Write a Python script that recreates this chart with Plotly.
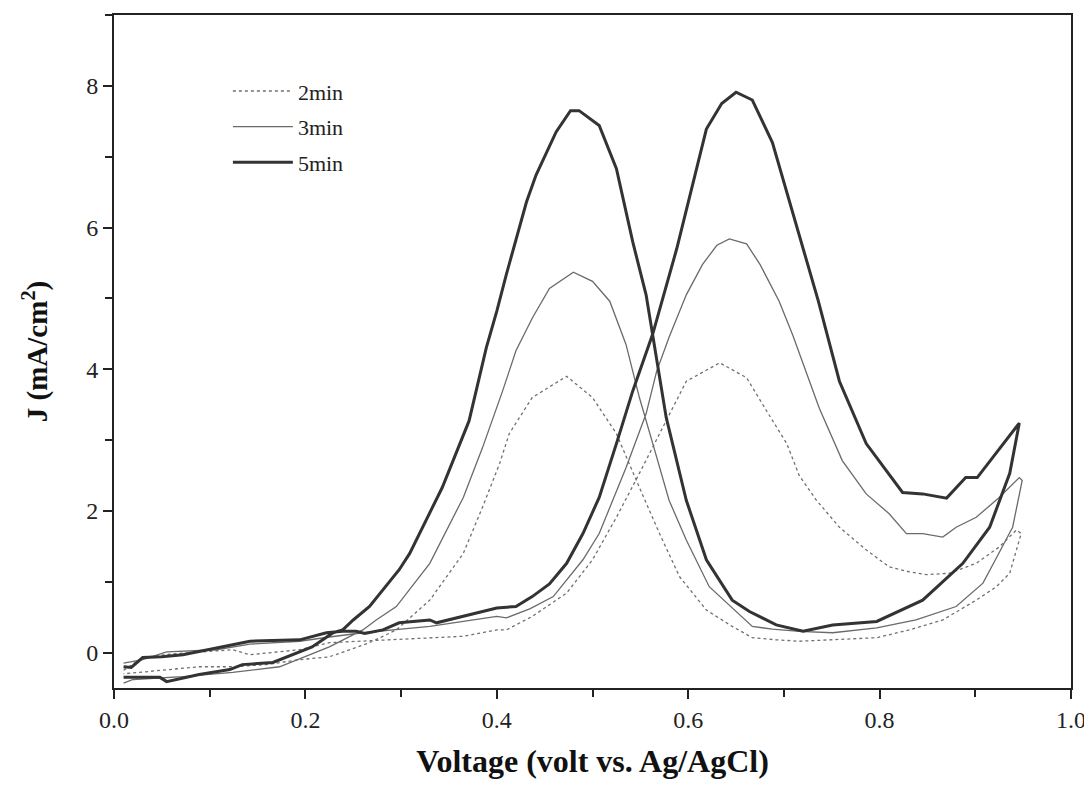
import plotly.graph_objects as go

# 5 min: forward scan then reverse scan (volt, mA/cm2)
v_5min = [0.01, 0.018, 0.03, 0.05, 0.072, 0.107, 0.142, 0.194, 0.222, 0.239, 0.253, 0.262, 0.281, 0.298,
          0.33, 0.337, 0.365, 0.4, 0.42, 0.437, 0.455, 0.473, 0.49, 0.507, 0.525, 0.542, 0.563, 0.588,
          0.619, 0.635, 0.65, 0.667, 0.688, 0.709, 0.736, 0.758, 0.786, 0.824, 0.845, 0.87, 0.89, 0.902,
          0.946,
          0.936, 0.915, 0.887, 0.845, 0.797, 0.751, 0.72, 0.692, 0.664, 0.646, 0.619, 0.598, 0.577, 0.563,
          0.556, 0.542, 0.525, 0.507, 0.486, 0.477, 0.462, 0.441, 0.431, 0.41, 0.4, 0.389, 0.371, 0.343,
          0.309, 0.298, 0.267, 0.25, 0.239, 0.229, 0.207, 0.166, 0.134, 0.121, 0.089, 0.055, 0.048, 0.023,
          0.01]
j_5min = [-0.2, -0.21, -0.07, -0.06, -0.03, 0.07, 0.16, 0.18, 0.28, 0.3, 0.3, 0.27, 0.32, 0.42,
          0.46, 0.42, 0.51, 0.63, 0.65, 0.79, 0.97, 1.26, 1.68, 2.19, 2.95, 3.69, 4.5, 5.7,
          7.39, 7.75, 7.91, 7.8, 7.2, 6.22, 4.96, 3.83, 2.95, 2.26, 2.24, 2.18, 2.47, 2.47,
          3.24,
          2.53, 1.77, 1.26, 0.74, 0.44, 0.39, 0.3, 0.39, 0.58, 0.74, 1.31, 2.15, 3.32, 4.49,
          5.05, 5.8, 6.83, 7.44, 7.65, 7.65, 7.35, 6.74, 6.36, 5.34, 4.82, 4.3, 3.27, 2.33,
          1.4, 1.17, 0.65, 0.46, 0.32, 0.28, 0.08, -0.14, -0.17, -0.24, -0.31, -0.41, -0.35, -0.35,
          -0.35]

v_3min = [0.01, 0.03, 0.055, 0.107, 0.142, 0.194, 0.225, 0.26, 0.3, 0.33, 0.365, 0.4, 0.41, 0.435,
          0.459, 0.49, 0.507, 0.535, 0.556, 0.567, 0.58, 0.598, 0.615, 0.63, 0.643, 0.661, 0.675, 0.695,
          0.709, 0.722, 0.737, 0.761, 0.786, 0.81, 0.828, 0.845, 0.866, 0.88, 0.901, 0.925, 0.946, 0.949,
          0.939, 0.921, 0.908, 0.88, 0.838, 0.797, 0.751, 0.716, 0.688, 0.667, 0.622, 0.598, 0.58, 0.563,
          0.549, 0.535, 0.518, 0.5, 0.48, 0.455, 0.437, 0.42, 0.406, 0.385, 0.365, 0.33, 0.295, 0.274,
          0.26, 0.225, 0.173, 0.124, 0.072, 0.02, 0.01]
j_3min = [-0.15, -0.1, 0.01, 0.04, 0.12, 0.16, 0.22, 0.28, 0.33, 0.37, 0.44, 0.51, 0.49, 0.62,
          0.79, 1.31, 1.68, 2.61, 3.37, 3.97, 4.45, 5.05, 5.48, 5.75, 5.84, 5.77, 5.48, 4.96,
          4.49, 4.02, 3.45, 2.71, 2.24, 1.96, 1.68, 1.68, 1.63, 1.77, 1.91, 2.19, 2.47, 2.43,
          1.77, 1.31, 0.98, 0.65, 0.46, 0.35, 0.28, 0.3, 0.33, 0.37, 0.93, 1.59, 2.15, 2.95,
          3.6, 4.35, 4.96, 5.24, 5.37, 5.14, 4.72, 4.26, 3.69, 2.89, 2.19, 1.26, 0.65, 0.46,
          0.32, 0.08, -0.2, -0.28, -0.34, -0.38, -0.43]

v_2min = [0.01, 0.03, 0.06, 0.089, 0.124, 0.142, 0.166, 0.194, 0.225, 0.295, 0.365, 0.4, 0.41, 0.437,
          0.473, 0.5, 0.525, 0.549, 0.57, 0.598, 0.633, 0.661, 0.682, 0.703, 0.716, 0.734, 0.758, 0.786,
          0.81, 0.831, 0.849, 0.873, 0.901, 0.925, 0.943, 0.948,
          0.946, 0.936, 0.922, 0.901, 0.866, 0.831, 0.797, 0.751, 0.716, 0.692, 0.667, 0.646, 0.619,
          0.591, 0.57, 0.549, 0.525, 0.5, 0.473, 0.437, 0.413, 0.403, 0.385, 0.365, 0.33, 0.295, 0.267,
          0.225, 0.194, 0.159, 0.124, 0.089, 0.055, 0.02, 0.01]
j_2min = [-0.25, -0.07, -0.02, 0.01, 0.04, -0.03, 0.0, 0.04, 0.14, 0.18, 0.23, 0.32, 0.32, 0.51,
          0.84, 1.31, 1.91, 2.53, 3.09, 3.83, 4.09, 3.88, 3.41, 2.95, 2.5, 2.15, 1.77, 1.45,
          1.21, 1.14, 1.1, 1.12, 1.26, 1.49, 1.73, 1.68,
          1.59, 1.12, 0.93, 0.74, 0.46, 0.32, 0.21, 0.18, 0.16, 0.18, 0.21, 0.37, 0.6,
          1.07, 1.68, 2.33, 3.09, 3.6, 3.9, 3.6, 3.09, 2.67, 2.05, 1.4, 0.74, 0.32, 0.14,
          -0.06, -0.1, -0.17, -0.2, -0.2, -0.24, -0.28, -0.3]

series_names = ["2min", "3min", "5min"]
x_ticks = [0.0, 0.2, 0.4, 0.6, 0.8, 1.0]
x_ticklabels = ["0.0", "0.2", "0.4", "0.6", "0.8", "1.0"]

FONT = "Liberation Serif, Times New Roman, serif"

fig = go.Figure()
fig.add_trace(go.Scatter(x=v_2min, y=j_2min, mode="lines", name=series_names[0], legendgroup="a",
                         line=dict(color="#707070", width=1.3, dash="3px,3px")))
fig.add_trace(go.Scatter(x=v_3min, y=j_3min, mode="lines", name=series_names[1], legendgroup="b",
                         line=dict(color="#6a6a6a", width=1.3)))
fig.add_trace(go.Scatter(x=v_5min, y=j_5min, mode="lines", name=series_names[2], legendgroup="c",
                         line=dict(color="#333333", width=3)))

axis_common = dict(showline=True, linecolor="#222", linewidth=2, mirror=True,
                   ticks="outside", tickcolor="#222", tickwidth=2, ticklen=9,
                   showgrid=False, zeroline=False,
                   tickfont=dict(family=FONT, size=24, color="#222"))

fig.update_layout(
    width=1084, height=773,
    plot_bgcolor="white", paper_bgcolor="white",
    margin=dict(l=106, r=21, t=5, b=93),
    showlegend=True,
    legend=dict(x=0.119, y=0.918, xanchor="left", yanchor="top",
                font=dict(family=FONT, size=22, color="#222"),
                bgcolor="rgba(0,0,0,0)", tracegroupgap=4, itemwidth=60),
    xaxis=dict(range=[0, 1.0], tickmode="array", tickvals=x_ticks, ticktext=x_ticklabels,
               ticklabeloverflow="allow",
               minor=dict(tickvals=[0.1, 0.3, 0.5, 0.7, 0.9], ticks="outside", ticklen=7,
                          tickwidth=2, tickcolor="#222"),
               title=dict(text="<b>Voltage (volt vs. Ag/AgCl)</b>",
                          font=dict(family=FONT, size=32, color="#111"), standoff=18),
               **axis_common),
    yaxis=dict(range=[-0.5, 9.0], dtick=2, tick0=0,
               minor=dict(dtick=1, ticks="outside", ticklen=7, tickwidth=2, tickcolor="#222"),
               title=dict(text="<b>J (mA/cm<sup>2</sup>)</b>",
                          font=dict(family=FONT, size=29, color="#111"), standoff=30),
               **axis_common),
)

fig.write_html("out.html")
